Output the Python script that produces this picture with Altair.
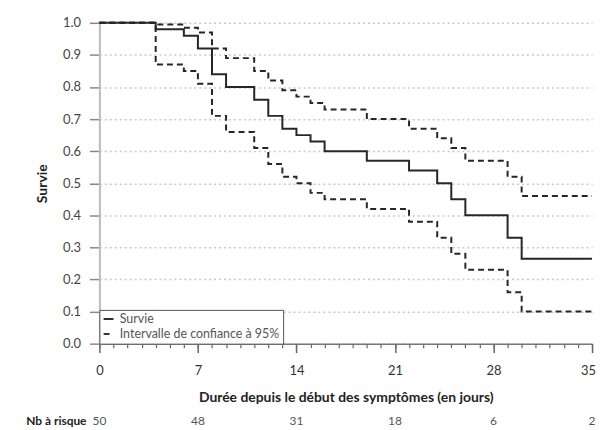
import altair as alt
import pandas as pd

# Kaplan-Meier step data (day at which the value starts)
days = [0, 4, 6, 7, 8, 9, 11, 12, 13, 14, 15, 16, 19, 22, 24, 25, 26, 29, 30, 35]
survie = [1.0, 0.98, 0.96, 0.92, 0.84, 0.80, 0.76, 0.71, 0.67, 0.65, 0.63, 0.60,
          0.57, 0.54, 0.50, 0.45, 0.40, 0.33, 0.265, 0.265]
ic_haut = [1.0, 0.995, 0.985, 0.97, 0.92, 0.89, 0.85, 0.82, 0.79, 0.77, 0.75, 0.73,
           0.70, 0.67, 0.64, 0.61, 0.57, 0.52, 0.46, 0.46]
ic_bas = [1.0, 0.87, 0.85, 0.81, 0.71, 0.66, 0.61, 0.56, 0.52, 0.50, 0.47, 0.45,
          0.42, 0.38, 0.33, 0.28, 0.23, 0.16, 0.10, 0.10]

risk_days = [0, 7, 14, 21, 28, 35]
risk_n = [50, 48, 31, 18, 6, 2]

y_ticks = [0.0, 0.1, 0.2, 0.3, 0.4, 0.5, 0.6, 0.7, 0.8, 0.9, 1.0]
x_major = [0, 7, 14, 21, 28, 35]
x_minor = list(range(0, 36))

S_LABEL = "Survie"
IC_LABEL = "Intervalle de confiance à 95%"

rows = []
for curve, vals, series in [("haut", ic_haut, IC_LABEL), ("bas", ic_bas, IC_LABEL),
                            ("survie", survie, S_LABEL)]:
    for d, v in zip(days, vals):
        rows.append({"day": d, "value": v, "curve": curve, "series": series})
df = pd.DataFrame(rows)

FONT = "Lato"
W, H = 496, 323
xscale = alt.Scale(domain=[0, 35], nice=False, zero=False)

lines = alt.Chart(df).mark_line(
    interpolate="step-after", color="#262626", strokeWidth=2
).encode(
    x=alt.X("day:Q", scale=xscale,
            axis=alt.Axis(
                values=x_major, orient="bottom",
                tickSize=9, tickColor="#666", tickWidth=1.5,
                domainColor="#777", domainWidth=1.5,
                grid=False, labelOverlap=False,
                labelFont=FONT, labelFontSize=13, labelColor="#333", labelPadding=12,
                labelFlush=False,
                labelOffset={"condition": {"test": "datum.value === 35", "value": -4},
                             "value": 0},
                title="Durée depuis le début des symptômes (en jours)",
                titleFont=FONT, titleFontSize=14, titleFontWeight="bold",
                titleColor="#222", titlePadding=13)),
    y=alt.Y("value:Q",
            scale=alt.Scale(domain=[0, 1], nice=False),
            axis=alt.Axis(
                values=y_ticks, format=".1f", labelOverlap=False,
                tickSize=10, tickColor="#888", tickWidth=1.5,
                domainColor="#bbb", domainWidth=2,
                grid=True, gridDash=[2, 3], gridColor="#c8c8c8", gridWidth=1.5,
                labelFont=FONT, labelFontSize=13, labelColor="#444", labelPadding=9,
                title="Survie", titleFont=FONT, titleFontSize=14,
                titleFontWeight="bold", titleColor="#222", titlePadding=13)),
    strokeDash=alt.StrokeDash(
        "series:N",
        scale=alt.Scale(domain=[S_LABEL, IC_LABEL], range=[[1, 0], [6, 4]]),
        legend=alt.Legend(
            title=None, orient="bottom-left", offset=0, padding=3,
            strokeColor="#555", fillColor="white",
            labelFont=FONT, labelFontSize=12.5, labelColor="#555", labelLimit=300,
            symbolType="stroke", symbolSize=100, symbolStrokeWidth=2,
            symbolStrokeColor="#333", rowPadding=2, labelOffset=5)),
    detail="curve:N",
)

# number-at-risk row; its x axis draws the daily minor ticks
risk = alt.Chart(pd.DataFrame({"day": risk_days, "n": risk_n})).mark_text(
    font=FONT, fontSize=12, color="#555", baseline="middle"
).encode(
    x=alt.X("day:Q", scale=xscale,
            axis=alt.Axis(values=x_minor, orient="bottom", labels=False,
                          tickSize=4, tickColor="#666", tickWidth=1.2,
                          domain=False, grid=False, title=None)),
    y=alt.value(400.5),
    text="n:Q",
)

risk_label = alt.Chart(pd.DataFrame({"t": ["Nb à risque"]})).mark_text(
    font=FONT, fontSize=12, fontWeight="bold", color="#222",
    align="right", baseline="middle"
).encode(
    x=alt.value(-13),
    y=alt.value(400.5),
    text="t:N",
)

chart = alt.layer(lines, risk, risk_label).resolve_axis(x="independent").properties(
    width=W, height=H,
    autosize=alt.AutoSizeParams(type="none"),
    padding={"left": 92, "top": 13.5, "right": 6, "bottom": 86},
    background="white",
).configure_view(stroke=None)

chart.save("out.html", embed_options={"renderer": "svg", "actions": False})
